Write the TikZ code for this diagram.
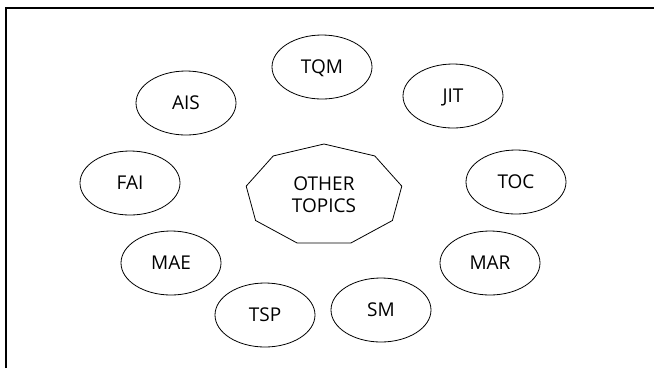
\documentclass[tikz,border=0pt]{standalone}
\usepackage{fontspec}
\setmainfont{Open Sans}
\usetikzlibrary{shapes.geometric}
\begin{document}
\begin{tikzpicture}[x=1pt,y=-1pt,
  topic/.style={draw, ellipse, line width=0.8pt, inner sep=0pt,
    minimum width=100pt, minimum height=64pt,
    font=\fontsize{19}{22}\selectfont, text height=13.5pt, text depth=0pt},
  hub/.style={align=center, inner sep=0pt, font=\fontsize{19}{22}\selectfont},
  frameline/.style={line width=1.3pt}
]
\useasboundingbox (0,0) rectangle (654,368);
% open frame along the left and top edges
\draw[frameline] (6,368) -- (6,8) -- (654,8);

% central topic inside a nonagon
\node[hub] (other) at (324,195) {OTHER\\TOPICS};
\draw[line width=0.8pt] plot[samples at={90,130,...,410}] ({324+79*cos(\x)},{195-51*sin(\x)}) -- cycle;

% surrounding topics
\node[topic] (tqm) at (322,67)  {TQM};
\node[topic] (jit) at (453,96)  {JIT};
\node[topic] (ais) at (186,103) {AIS};
\node[topic] (fai) at (130,183) {FAI};
\node[topic] (toc) at (516,182) {TOC};
\node[topic] (mae) at (171,263) {MAE};
\node[topic] (mar) at (490,263) {MAR};
\node[topic] (tsp) at (265,315) {TSP};
\node[topic] (sm)  at (381,310) {SM};
\end{tikzpicture}
\end{document}
